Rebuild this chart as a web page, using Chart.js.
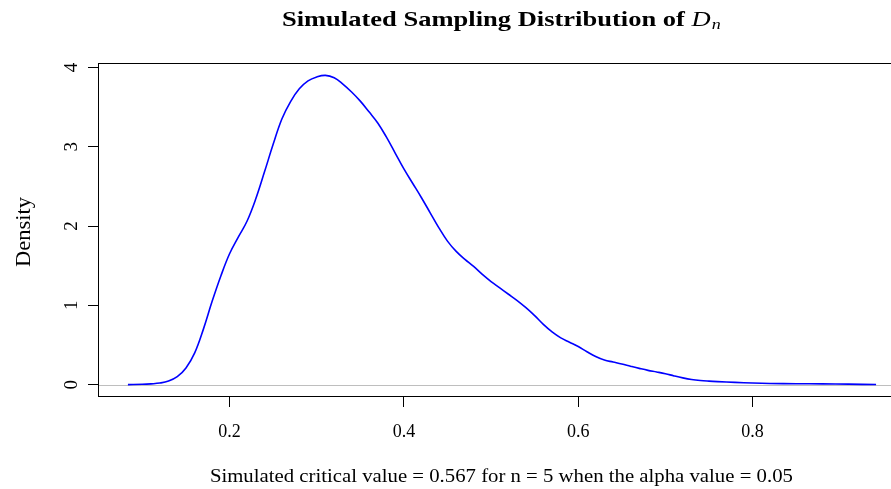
<!DOCTYPE html>
<html><head><meta charset="utf-8">
<script src="https://cdn.jsdelivr.net/npm/chart.js@4.4.1/dist/chart.umd.min.js"></script>
<style>
html,body{margin:0;padding:0;overflow:hidden;background:#fff;width:891px;height:489px}
#wrap{position:absolute;left:0;top:0;width:906px;height:489px}
canvas{display:block}
</style>
</head><body><div id="wrap"><canvas id="c" width="906" height="489"></canvas></div>
<script>
// ---- data ----
const densityX = [0.0834,0.10,0.11,0.12,0.13,0.14,0.15,0.16,0.17,0.18,0.19,0.20,0.21,0.22,0.23,0.24,0.25,0.26,0.27,0.28,0.29,0.30,0.31,0.32,0.33,0.34,0.35,0.36,0.37,0.38,0.39,0.40,0.41,0.42,0.43,0.44,0.45,0.46,0.47,0.48,0.49,0.50,0.51,0.52,0.53,0.54,0.55,0.56,0.57,0.58,0.59,0.60,0.61,0.62,0.63,0.64,0.65,0.66,0.67,0.68,0.69,0.70,0.71,0.72,0.73,0.74,0.75,0.76,0.78,0.80,0.82,0.85,0.88,0.91,0.9417];
const densityY = [0,0.004,0.01,0.02,0.045,0.10,0.21,0.40,0.70,1.05,1.37,1.65,1.86,2.06,2.34,2.68,3.03,3.35,3.57,3.73,3.83,3.88,3.90,3.87,3.79,3.69,3.575,3.44,3.30,3.12,2.92,2.72,2.54,2.36,2.17,1.98,1.81,1.68,1.58,1.49,1.39,1.30,1.22,1.14,1.06,0.97,0.87,0.76,0.665,0.59,0.535,0.48,0.415,0.355,0.31,0.285,0.26,0.232,0.205,0.18,0.16,0.138,0.11,0.085,0.065,0.052,0.044,0.038,0.028,0.02,0.015,0.012,0.01,0.006,0.001];
const xTickValues = [0.2, 0.4, 0.6, 0.8];
const xTickLabels = ["0.2", "0.4", "0.6", "0.8"];
const yTickValues = [0, 1, 2, 3, 4];
const yTickLabels = ["0", "1", "2", "3", "4"];
const titleMain = "Simulated Sampling Distribution of ";
const titleSymbol = "D";
const titleSubscript = "n";
const xAxisLabel = "Simulated critical value = 0.567 for n = 5 when the alpha value = 0.05";
const yAxisLabel = "Density";

// axis limits like R (4% extension of the data range)
const xr = Math.max(...densityX) - Math.min(...densityX);
const xMin = Math.min(...densityX) - 0.04 * xr, xMax = Math.max(...densityX) + 0.04 * xr;
const yr = Math.max(...densityY) - Math.min(...densityY);
const yMin = Math.min(...densityY) - 0.04 * yr, yMax = Math.max(...densityY) + 0.04 * yr;

const SERIF = '"Liberation Serif", "Times New Roman", serif';

function stretchText(ctx, text, x, y, target, align) {
  const w = ctx.measureText(text).width;
  let sx = target ? Math.min(1.4, Math.max(0.8, target / w)) : 1;
  ctx.save();
  ctx.translate(x, y);
  ctx.scale(sx, 1);
  ctx.textAlign = align || 'center';
  ctx.fillText(text, 0, 0);
  ctx.restore();
}

const decorPlugin = {
  id: 'decor',
  beforeDatasetsDraw(chart) {
    const {ctx, chartArea: a, scales: {y}} = chart;
    const y0 = Math.round(y.getPixelForValue(0)) + 0.5;
    ctx.save();
    ctx.strokeStyle = '#bebebe';
    ctx.lineWidth = 1;
    ctx.beginPath();
    ctx.moveTo(a.left, y0); ctx.lineTo(a.right, y0);
    ctx.stroke();
    ctx.restore();
  },
  afterDraw(chart) {
    const {ctx, chartArea: a, scales: {x, y}} = chart;
    ctx.save();
    // box
    ctx.strokeStyle = '#000';
    ctx.lineWidth = 1;
    ctx.strokeRect(a.left + 0.5, a.top + 0.5, a.right - a.left, a.bottom - a.top - 1);
    ctx.fillStyle = '#000';
    ctx.textBaseline = 'alphabetic';
    // x tick labels
    ctx.font = '18px ' + SERIF;
    ctx.textAlign = 'center';
    xTickValues.forEach((v, i) => {
      ctx.fillText(xTickLabels[i], x.getPixelForValue(v), 437);
    });
    // y tick labels (rotated like R)
    ctx.font = '19px ' + SERIF;
    yTickValues.forEach((v, i) => {
      ctx.save();
      ctx.translate(77, y.getPixelForValue(v));
      ctx.rotate(-Math.PI / 2);
      ctx.textAlign = 'center';
      ctx.fillText(yTickLabels[i], 0, 0);
      ctx.restore();
    });
    const cx = (a.left + 904.8) / 2;
    // x axis label
    ctx.font = '18px ' + SERIF;
    stretchText(ctx, xAxisLabel, cx, 482, 583, 'center');
    // y axis label
    ctx.save();
    ctx.translate(30, (a.top + a.bottom) / 2 + 2);
    ctx.rotate(-Math.PI / 2);
    ctx.font = '20px ' + SERIF;
    stretchText(ctx, yAxisLabel, 0, 0, 70, 'center');
    ctx.restore();
    // title with italic D and subscript n
    const fMain = 'bold 22px ' + SERIF, fSym = 'italic 22px ' + SERIF, fSub = 'italic 15px ' + SERIF;
    ctx.font = fMain; const w1 = ctx.measureText(titleMain).width;
    ctx.font = fSym; const w2 = ctx.measureText(titleSymbol).width;
    ctx.font = fSub; const w3 = ctx.measureText(titleSubscript).width;
    const total = w1 + w2 + w3 + 1;
    const target = 439;
    const sx = Math.min(1.4, Math.max(0.8, target / total));
    ctx.save();
    ctx.translate(cx - target / 2, 26);
    ctx.scale(sx, 1);
    ctx.textAlign = 'left';
    ctx.font = fMain; ctx.fillText(titleMain, 0, 0);
    ctx.font = fSym; ctx.fillText(titleSymbol, w1, 0);
    ctx.font = fSub; ctx.fillText(titleSubscript, w1 + w2 + 1, 3);
    ctx.restore();
    ctx.restore();
  }
};

new Chart(document.getElementById('c'), {
  type: 'scatter',
  data: {
    datasets: [{
      data: densityX.map((v, i) => ({x: v, y: densityY[i]})),
      showLine: true,
      borderColor: '#0000ff',
      borderWidth: 1.6,
      pointRadius: 0,
      pointHoverRadius: 0,
      tension: 0.4,
      fill: false
    }]
  },
  options: {
    responsive: false,
    devicePixelRatio: 1,
    animation: false,
    events: [],
    layout: {padding: {top: 63, right: 0, left: 0, bottom: 0}},
    plugins: {legend: {display: false}, title: {display: false}, tooltip: {enabled: false}},
    scales: {
      x: {
        type: 'linear', min: xMin, max: xMax,
        afterBuildTicks(s) { s.ticks = xTickValues.map(v => ({value: v})); },
        afterFit(s) { s.height = 92; },
        ticks: {display: false},
        grid: {drawOnChartArea: false, drawTicks: true, tickLength: 10, color: '#000', lineWidth: 1},
        border: {display: false}
      },
      y: {
        type: 'linear', min: yMin, max: yMax,
        afterBuildTicks(s) { s.ticks = yTickValues.map(v => ({value: v})); },
        afterFit(s) { s.width = 98; },
        ticks: {display: false},
        grid: {drawOnChartArea: false, drawTicks: true, tickLength: 10, color: '#000', lineWidth: 1},
        border: {display: false}
      }
    }
  },
  plugins: [decorPlugin]
});
</script>
</body></html>
